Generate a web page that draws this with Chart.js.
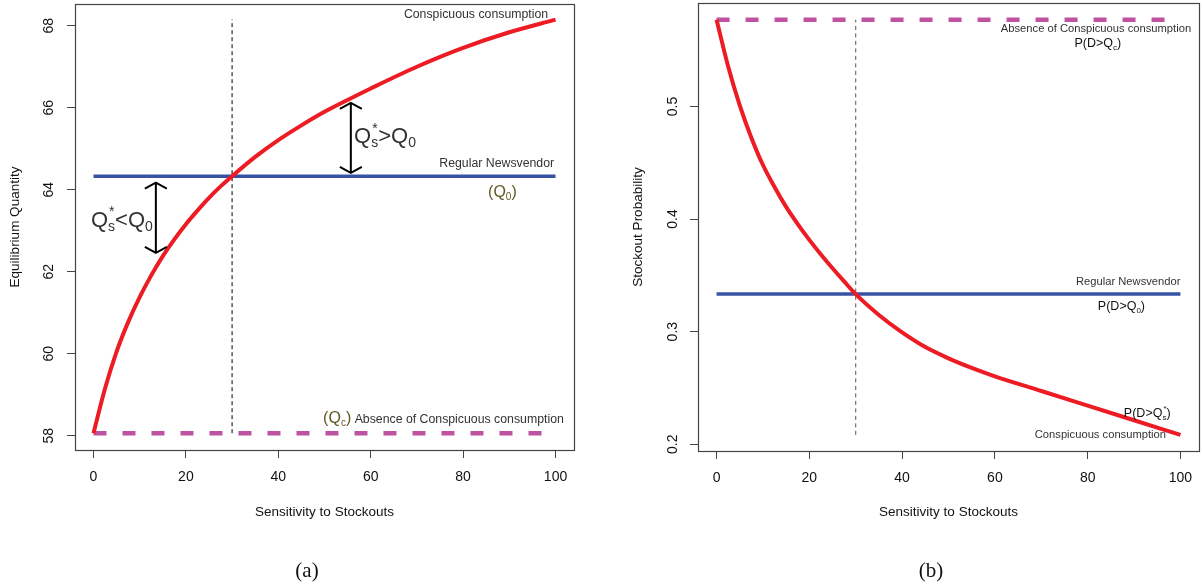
<!DOCTYPE html>
<html>
<head>
<meta charset="utf-8">
<script src="https://cdn.jsdelivr.net/npm/chart.js@4.4.1/dist/chart.umd.min.js"></script>
<style>
  html, body { margin: 0; padding: 0; background: #fff; }
  #wrap { position: relative; width: 1202px; height: 587px; }
  canvas { position: absolute; top: 0; }
</style>
</head>
<body>
<div id="wrap">
  <canvas id="qty" width="600" height="587" style="left:0"></canvas>
  <canvas id="prob" width="602" height="587" style="left:600px"></canvas>
</div>
<script>
const FONT = "'Liberation Sans', Arial, Helvetica, sans-serif";
Chart.defaults.font.family = FONT;
Chart.defaults.color = '#111';

// values
const sensitivity = [0, 2.5, 5, 7.5, 10, 12.5, 15, 17.5, 20, 22.5, 25, 27.5, 30, 35, 40, 45, 50, 55, 60, 70, 80, 90, 100];
const quantityConspicuous = [58.06, 59.15, 60.05, 60.77, 61.38, 61.91, 62.38, 62.79, 63.16, 63.49, 63.8, 64.08, 64.33, 64.8, 65.21, 65.57, 65.9, 66.19, 66.47, 67.0, 67.46, 67.84, 68.15];
const probConspicuous = [0.577, 0.5355, 0.501, 0.4723, 0.448, 0.4285, 0.4108, 0.3955, 0.3815, 0.3685, 0.3563, 0.3446, 0.3333, 0.3148, 0.2993, 0.2863, 0.2763, 0.2678, 0.2603, 0.2473, 0.2343, 0.2213, 0.2083];
const quantityRegular = 64.33;
const quantityAbsence = 58.06;
const probRegular = 0.3335;
const probAbsence = 0.577;
const crossing = 30;

const xTicks = [0, 20, 40, 60, 80, 100];
const quantityTicks = [58, 60, 62, 64, 66, 68];
const probTicks = [0.2, 0.3, 0.4, 0.5];

// double arrows in panel (a): x, from, to
const arrowX = [13.5, 55.7];
const arrowFrom = [62.46, 64.41];
const arrowTo = [64.17, 66.12];

const RED = '#ed1c24', BLUE = '#3953a4', PINK = '#bf52a1', OLIVE = '#5d5a20', INK = '#333';

const pts = (xs, ys) => xs.map((x, i) => ({ x, y: ys[i] }));
const flat = (v) => [{ x: 0, y: v }, { x: 100, y: v }];

// rich text: parts of {t, size, dy, over, color}
function rich(ctx, x, y, parts, align) {
  const widths = parts.map(p => {
    ctx.font = p.size + 'px ' + FONT;
    return ctx.measureText(p.t).width;
  });
  const total = widths.reduce((a, b) => a + b, 0);
  let cx = align === 'right' ? x - total : align === 'center' ? x - total / 2 : x;
  ctx.textBaseline = 'alphabetic';
  ctx.textAlign = 'left';
  parts.forEach((p, i) => {
    ctx.fillStyle = p.color || INK;
    ctx.font = p.size + 'px ' + FONT;
    ctx.fillText(p.t, cx, y + (p.dy || 0));
    if (p.over) ctx.fillText(p.over, cx + 1, y - p.size * 0.75);
    cx += widths[i];
  });
}

const annot = {
  id: 'annot',
  afterDatasetsDraw(chart, args, opts) {
    const { ctx, chartArea: a, scales: { x, y } } = chart;
    ctx.save();
    ctx.strokeStyle = '#444';
    ctx.lineWidth = 1.2;
    ctx.strokeRect(a.left + 0.5, a.top + 0.5, a.right - a.left, a.bottom - a.top);
    ctx.strokeStyle = '#000';
    ctx.lineWidth = 2;
    (opts.arrows || []).forEach(ar => {
      const px = x.getPixelForValue(ar.x), t = y.getPixelForValue(ar.to), b = y.getPixelForValue(ar.from);
      ctx.beginPath();
      ctx.moveTo(px, t); ctx.lineTo(px, b);
      ctx.moveTo(px - 11, t + 6); ctx.lineTo(px, t); ctx.lineTo(px + 11, t + 6);
      ctx.moveTo(px - 11, b - 6); ctx.lineTo(px, b); ctx.lineTo(px + 11, b - 6);
      ctx.stroke();
    });
    (opts.notes || []).forEach(n => {
      rich(ctx, x.getPixelForValue(n.x), y.getPixelForValue(n.y), n.parts, n.align);
    });
    ctx.fillStyle = '#111';
    ctx.font = "21px 'Liberation Serif', 'DejaVu Serif', serif";
    ctx.textAlign = 'center';
    ctx.textBaseline = 'alphabetic';
    ctx.fillText(opts.caption.text, opts.caption.x, opts.caption.y);
    ctx.restore();
  }
};

function scales(yMin, yMax, yTicks, yTitle, yFmt, yW, xH, yPad, yTitlePad) {
  const zeroPad = s => { s.paddingTop = 0; s.paddingBottom = 0; s.paddingLeft = 0; s.paddingRight = 0; };
  return {
    x: {
      type: 'linear', min: -4, max: 104,
      afterBuildTicks: s => { s.ticks = xTicks.map(v => ({ value: v })); },
      afterFit: s => { s.height = xH; zeroPad(s); },
      grid: { drawOnChartArea: false, drawTicks: true, tickLength: 8, color: '#444' },
      border: { display: false },
      ticks: { font: { size: 14 }, color: '#111', padding: 11, maxRotation: 0, callback: v => String(v) },
      title: { display: true, text: 'Sensitivity to Stockouts', font: { size: 13.5 }, color: '#111', padding: { top: 0, bottom: 67 } }
    },
    y: {
      type: 'linear', min: yMin, max: yMax,
      afterBuildTicks: s => { s.ticks = yTicks.map(v => ({ value: v })); },
      afterFit: s => { s.width = yW; zeroPad(s); },
      grid: { drawOnChartArea: false, drawTicks: true, tickLength: 8, color: '#444' },
      border: { display: false },
      ticks: { font: { size: 14 }, color: '#111', padding: yPad, minRotation: 90, maxRotation: 90, crossAlign: 'center', callback: yFmt },
      title: { display: true, text: yTitle, font: { size: 13.5 }, color: '#111', padding: { top: yTitlePad, bottom: 0 } }
    }
  };
}

const lineDefaults = { pointRadius: 0, fill: false, borderCapStyle: 'butt' };

new Chart(document.getElementById('qty'), {
  type: 'line',
  data: {
    datasets: [
      { ...lineDefaults, data: pts(sensitivity, quantityConspicuous), borderColor: RED, borderWidth: 4, cubicInterpolationMode: 'monotone' },
      { ...lineDefaults, data: flat(quantityRegular), borderColor: BLUE, borderWidth: 3.5 },
      { ...lineDefaults, data: flat(quantityAbsence), borderColor: PINK, borderWidth: 4.5, borderDash: [13, 16] },
      { ...lineDefaults, data: [{ x: crossing, y: quantityAbsence }, { x: crossing, y: quantityConspicuous[quantityConspicuous.length - 1] }], borderColor: '#000', borderWidth: 1, borderDash: [4, 3] }
    ]
  },
  options: {
    responsive: false, animation: false,
    layout: { padding: { top: 4, right: 26, left: 0, bottom: 0 } },
    plugins: {
      legend: { display: false }, tooltip: { enabled: false },
      annot: {
        arrows: arrowX.map((ax, i) => ({ x: ax, from: arrowFrom[i], to: arrowTo[i] })),
        notes: [
          { x: 98.4, y: 68.18, align: 'right', parts: [{ t: 'Conspicuous consumption', size: 12.3 }] },
          { x: 99.7, y: 64.56, align: 'right', parts: [{ t: 'Regular Newsvendor', size: 12.3 }] },
          { x: 85.4, y: 63.82, align: 'left', parts: [{ t: '(Q', size: 16, color: OLIVE }, { t: '0', size: 10, dy: 3, color: OLIVE }, { t: ')', size: 16, color: OLIVE }] },
          { x: 49.7, y: 58.30, align: 'left', parts: [{ t: '(Q', size: 16, color: OLIVE }, { t: 'c', size: 10, dy: 3, color: OLIVE }, { t: ')', size: 16, color: OLIVE }, { t: ' Absence of Conspicuous consumption', size: 12.3 }] },
          { x: 56.4, y: 65.13, align: 'left', parts: [{ t: 'Q', size: 22 }, { t: 's', size: 14, dy: 4, over: '*' }, { t: '>Q', size: 22 }, { t: '0', size: 14, dy: 4 }] },
          { x: -0.54, y: 63.10, align: 'left', parts: [{ t: 'Q', size: 22 }, { t: 's', size: 14, dy: 4, over: '*' }, { t: '<Q', size: 22 }, { t: '0', size: 14, dy: 4 }] }
        ],
        caption: { text: '(a)', x: 307, y: 577 }
      }
    },
    scales: scales(57.65, 68.53, quantityTicks, 'Equilibrium Quantity', v => String(v), 75, 137, 10, 7)
  },
  plugins: [annot]
});

new Chart(document.getElementById('prob'), {
  type: 'line',
  data: {
    datasets: [
      { ...lineDefaults, data: pts(sensitivity, probConspicuous), borderColor: RED, borderWidth: 4, cubicInterpolationMode: 'monotone' },
      { ...lineDefaults, data: flat(probRegular), borderColor: BLUE, borderWidth: 3.5 },
      { ...lineDefaults, data: flat(probAbsence), borderColor: PINK, borderWidth: 4.5, borderDash: [13, 16] },
      { ...lineDefaults, data: [{ x: crossing, y: probConspicuous[probConspicuous.length - 1] }, { x: crossing, y: probAbsence }], borderColor: '#555', borderWidth: 1, borderDash: [4, 3.5] }
    ]
  },
  options: {
    responsive: false, animation: false,
    layout: { padding: { top: 3, right: 3, left: 0, bottom: 0 } },
    plugins: {
      legend: { display: false }, tooltip: { enabled: false },
      annot: {
        notes: [
          { x: 102.3, y: 0.5659, align: 'right', parts: [{ t: 'Absence of Conspicuous consumption', size: 11.2 }] },
          { x: 82.2, y: 0.5531, align: 'center', parts: [{ t: 'P(D>Q', size: 12.5, color: '#111' }, { t: 'c', size: 8, dy: 3, color: '#111' }, { t: ')', size: 12.5, color: '#111' }] },
          { x: 100.0, y: 0.3414, align: 'right', parts: [{ t: 'Regular Newsvendor', size: 11.2 }] },
          { x: 82.2, y: 0.3192, align: 'left', parts: [{ t: 'P(D>Q', size: 12.5, color: '#111' }, { t: '0', size: 8, dy: 3, color: '#111' }, { t: ')', size: 12.5, color: '#111' }] },
          { x: 87.8, y: 0.2242, align: 'left', parts: [{ t: 'P(D>Q', size: 12.5, color: '#111' }, { t: 's', size: 8, dy: 3, over: '*', color: '#111' }, { t: ')', size: 12.5, color: '#111' }] },
          { x: 68.6, y: 0.2053, align: 'left', parts: [{ t: 'Conspicuous consumption', size: 11.2 }] }
        ],
        caption: { text: '(b)', x: 331, y: 577 }
      }
    },
    scales: scales(0.194, 0.5919, probTicks, 'Stockout Probability', v => v.toFixed(1), 98, 136, 7, 30)
  },
  plugins: [annot]
});
</script>
</body>
</html>
